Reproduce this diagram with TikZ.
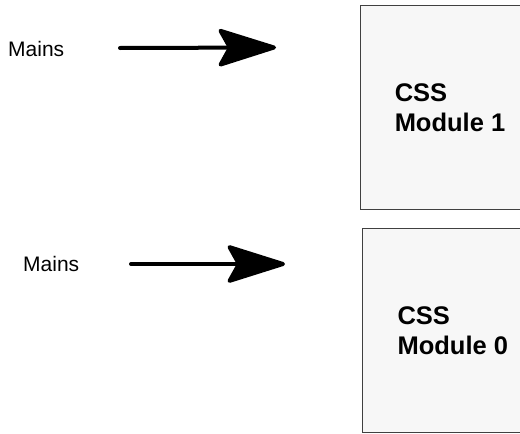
\documentclass[tikz,border=0pt]{standalone}
\usepackage{fontspec}
\setmainfont{Liberation Sans}
\usetikzlibrary{arrows.meta}
\begin{document}
\begin{tikzpicture}[x=1pt,y=-1pt,
  modbox/.style={draw=black!75, fill=black!3, line width=1pt, minimum width=180pt, align=left, inner sep=0pt, font=\fontsize{25.5}{30}\selectfont\bfseries},
  lbl/.style={anchor=west, inner sep=0pt, font=\fontsize{21}{25}\selectfont},
  bigarrow/.style={line width=4pt, line cap=round, -{Stealth[length=64pt,width=40pt,inset=11pt,round]}}]
\clip (0,0) rectangle (520,434);
\fill[white] (0,0) rectangle (520,434);
\node[modbox, minimum height=204.7pt] (m1) at (450,107.6) {CSS\\Module 1};
\node[modbox, minimum height=203.7pt] (m0) at (452.8,330.8) {CSS\\Module 0};
\node[lbl] (mains1) at (8,49) {Mains};
\node[lbl] (mains0) at (23,263.5) {Mains};
\coordinate (a1s) at (120,48);
\coordinate (a1e) at (276,47.5);
\coordinate (a0s) at (131,264);
\coordinate (a0e) at (285,264);
\draw[bigarrow] (a1s) -- (a1e);
\draw[bigarrow] (a0s) -- (a0e);
\end{tikzpicture}
\end{document}
